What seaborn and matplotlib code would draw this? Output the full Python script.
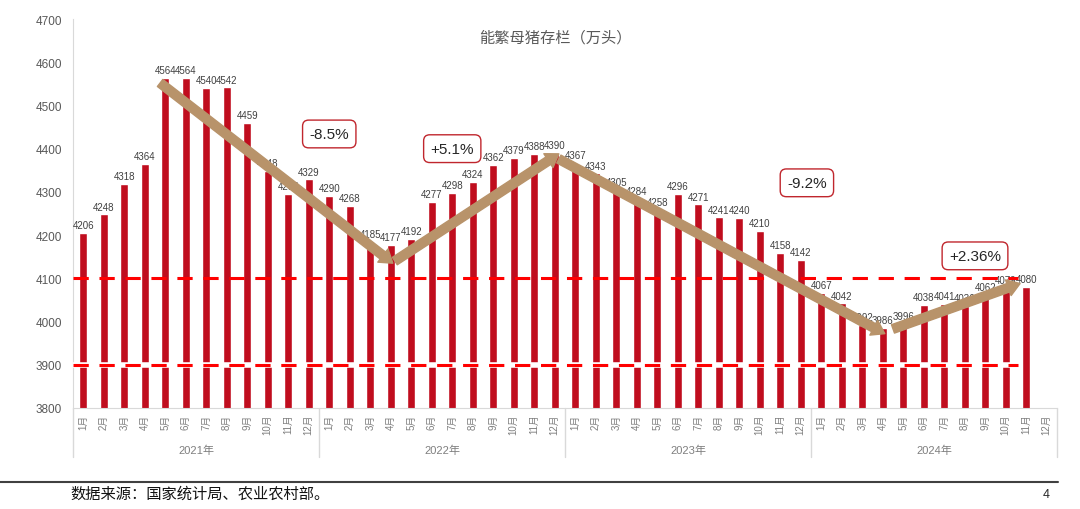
import pandas as pd
import numpy as np
import matplotlib
matplotlib.use("Agg")
import matplotlib.pyplot as plt
import matplotlib.transforms as mtransforms
import seaborn as sns

sns.set_style("white")
plt.rcParams['font.family'] = ['Liberation Sans', 'Noto Sans CJK SC', 'DejaVu Sans']

years = ["2021年", "2022年", "2023年", "2024年"]
months = [f"{m}月" for m in range(1, 13)]
v2021 = [4206, 4248, 4318, 4364, 4564, 4564, 4540, 4542, 4459, 4348, 4296, 4329]
v2022 = [4290, 4268, 4185, 4177, 4192, 4277, 4298, 4324, 4362, 4379, 4388, 4390]
v2023 = [4367, 4343, 4305, 4284, 4258, 4296, 4271, 4241, 4240, 4210, 4158, 4142]
v2024 = [4067, 4042, 3992, 3986, 3996, 4038, 4041, 4036, 4062, 4079, 4080, np.nan]

# trend arrows: (start index, start value, end index, end value), label, label pos
trends = [
    ((3.75, 4552), (15.1, 4135), "-8.5%", (12.0, 4434)),
    ((15.2, 4140), (23.2, 4388), "+5.1%", (18.0, 4400)),
    ((23.2, 4376), (39.1, 3972), "-9.2%", (35.3, 4321)),
    ((39.5, 3983), (45.7, 4088), "+2.36%", (43.5, 4152)),
]

rows = []
for y, vals in zip(years, [v2021, v2022, v2023, v2024]):
    for m, v in zip(months, vals):
        rows.append({"key": f"{y}{m}", "month": m, "year": y, "value": v})
df = pd.DataFrame(rows)

fig = plt.figure(figsize=(10.8, 5.1), dpi=100)
ax = fig.add_axes([73 / 1080, 1 - 409 / 510, 984 / 1080, 389 / 510])

sns.barplot(data=df, x="key", y="value", order=df["key"], color="#C00D1E",
            width=0.4, saturation=1, ax=ax)
for c in ax.containers:
    ax.bar_label(c, fmt="{:.0f}", padding=2, fontsize=7, color="#404040")

ax.set_ylim(3800, 4700)
ax.set_xlim(-0.5, len(df) - 0.5)
ax.set_yticks(range(3800, 4701, 100))
ax.tick_params(axis="y", labelsize=8.5, colors="#595959", length=0, pad=8)
ax.set_xticks(range(len(df)))
ax.set_xticklabels(df["month"], rotation=90, fontsize=7, color="#7f7f7f")
ax.tick_params(axis="x", length=0, pad=4)
ax.set_xlabel("")
ax.set_ylabel("")
for s in ["top", "right"]:
    ax.spines[s].set_visible(False)
ax.spines["left"].set_color("#D9D9D9")
ax.spines["bottom"].set_color("#D9D9D9")

# reference dashed lines
ax.hlines(3900, -0.5, 45.6, color="white", lw=4, zorder=3)
ax.hlines([4100, 3900], -0.5, 45.6, color="#FF0000", lw=2.2,
          linestyles=(0, (5, 3.5)), zorder=4)

# year groups
trans = mtransforms.blended_transform_factory(ax.transData, ax.transAxes)
for i, y in enumerate(years):
    ax.text(i * 12 + 5.5, -0.108, y, transform=trans, ha="center", va="center",
            fontsize=8, color="#7f7f7f")
for i in range(len(years) + 1):
    ax.plot([i * 12 - 0.5] * 2, [0, -0.126], transform=trans, color="#D9D9D9",
            lw=1, clip_on=False)

# trend arrows and labels
for (x0, y0), (x1, y1), lab, (tx, ty) in trends:
    ax.annotate("", xy=(x1, y1), xytext=(x0, y0),
                arrowprops=dict(arrowstyle="simple,head_width=0.6,head_length=0.45,tail_width=0.32",
                                mutation_scale=20, color="#B8936A", shrinkA=0, shrinkB=0),
                zorder=5)
    ax.text(tx, ty, lab, ha="center", va="center", fontsize=11, color="#262626", zorder=6,
            bbox=dict(boxstyle="round,pad=0.45,rounding_size=0.4", fc="white",
                      ec="#C0262D", lw=1))

ax.text(0.49, 0.954, "能繁母猪存栏（万头）", transform=ax.transAxes, ha="center",
        va="center", fontsize=11, color="#595959")

# footer
fig.add_artist(plt.Line2D([0, 1058 / 1080], [1 - 483 / 510] * 2, color="#404040", lw=1.5))
fig.text(70 / 1080, 1 - 494 / 510, "数据来源：国家统计局、农业农村部。", ha="left",
         va="center", fontsize=11, color="#111111")
fig.text(1046 / 1080, 1 - 495 / 510, "4", ha="center", va="center", fontsize=9,
         color="#262626")

fig.savefig("out.png", dpi=100)
